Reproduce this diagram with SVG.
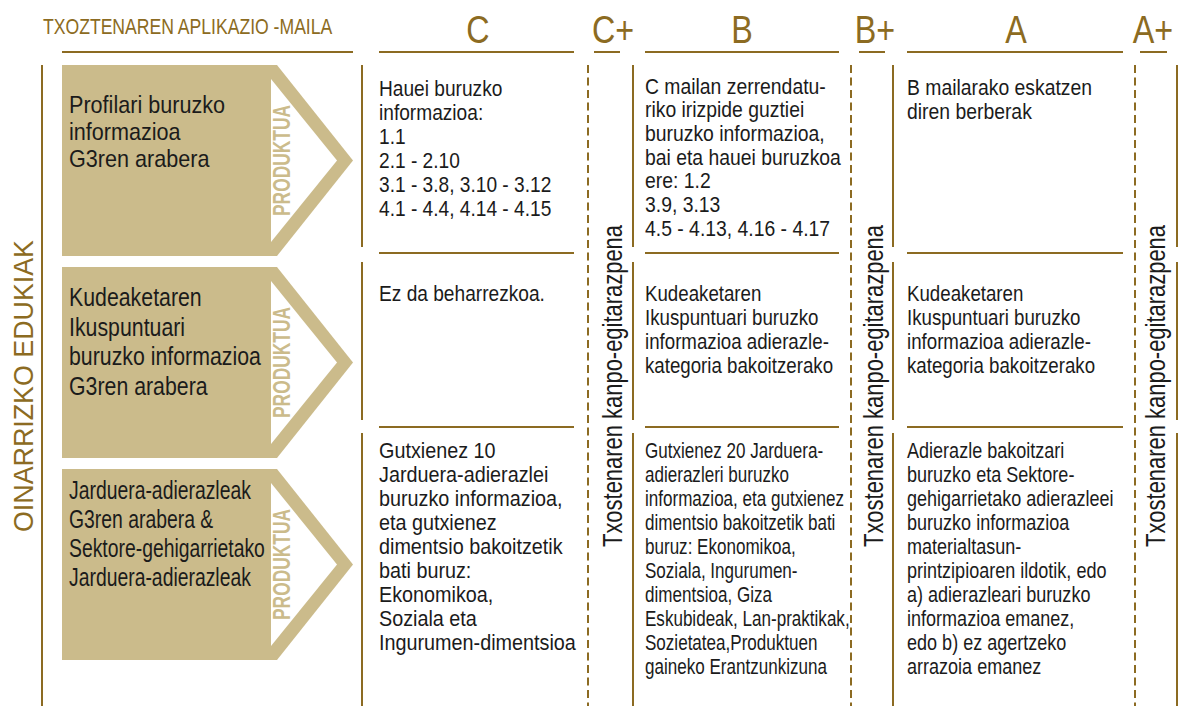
<svg xmlns="http://www.w3.org/2000/svg" width="1186" height="706" viewBox="0 0 1186 706">
<style>
.bg{fill:#ffffff}
.tan{fill:#CBBB8B}
.wht{fill:#ffffff}
.ln{stroke:#8C6B22;stroke-width:2;fill:none}
.dash{stroke:#8C6B22;stroke-width:2;fill:none;stroke-dasharray:8 4.5}
.gold{fill:#8C6B22;font-family:"Liberation Sans",Arial,sans-serif}
.hd{font-size:22px}
.lvl{font-size:38px;text-anchor:middle}
.side{font-size:28px}
.body{fill:#1b1b1b;font-family:"Liberation Sans",Arial,sans-serif;font-size:22px}
.box{fill:#1b1b1b;font-family:"Liberation Sans",Arial,sans-serif}
.prod{fill:#CBBB8B;font-family:"Liberation Sans",Arial,sans-serif;font-weight:bold;font-size:24px}
.vt{fill:#1b1b1b;font-family:"Liberation Sans",Arial,sans-serif;font-size:27px}
</style>
<rect class="bg" x="0" y="0" width="1186" height="706"/>

<g id="headers">
  <text class="gold hd" transform="translate(43,34) scale(0.8,1)">TXOZTENAREN APLIKAZIO -MAILA</text>
  <text class="gold lvl" transform="translate(478,42.5) scale(0.85,1)">C</text>
  <text class="gold lvl" transform="translate(613,42.5) scale(0.85,1)">C+</text>
  <text class="gold lvl" transform="translate(742,42.5) scale(0.85,1)">B</text>
  <text class="gold lvl" transform="translate(875,42.5) scale(0.85,1)">B+</text>
  <text class="gold lvl" transform="translate(1016,42.5) scale(0.85,1)">A</text>
  <text class="gold lvl" transform="translate(1153,42.5) scale(0.85,1)">A+</text>
  <text class="gold side" transform="translate(32.7,532) rotate(-90)" textLength="292" lengthAdjust="spacingAndGlyphs">OINARRIZKO EDUKIAK</text>
</g>

<g id="connectors">
  <path class="ln" d="M62,52H353 M379,52H574 M594,52H620 M645,52H839 M859,52H885 M907,52H1123 M1140,52H1167"/>
  <path class="ln" d="M42,65V706"/>
  <path class="ln" d="M362,65V247 M362,262V420 M362,433V706"/>
  <path class="ln" d="M633,65V247 M633,262V420 M633,433V706"/>
  <path class="ln" d="M893,65V247 M893,262V420 M893,433V706"/>
  <path class="ln" d="M1177,65V247 M1177,262V420 M1177,433V706"/>
  <path class="ln" d="M379,253H574 M645,253H839 M907,253H1123"/>
  <path class="ln" d="M379,427H574 M645,427H839 M907,427H1123"/>
  <path class="dash" d="M588,65V706 M851,65V706 M1135,65V706"/>
</g>

<g id="node-profilari">
  <path class="tan" d="M62,65H277L353,160.5L277,256H62Z"/>
  <path class="wht" d="M271,79L337,160.5L271,242Z"/>
  <text class="prod" transform="translate(290,216) rotate(-90)" textLength="111" lengthAdjust="spacingAndGlyphs">PRODUKTUA</text>
  <text class="box" font-size="24" transform="translate(69,113) scale(0.9,1)"><tspan x="0" y="0">Profilari buruzko</tspan><tspan x="0" y="27">informazioa</tspan><tspan x="0" y="54">G3ren arabera</tspan></text>
</g>

<g id="node-kudeaketa">
  <path class="tan" d="M62,267H277L353,362.5L277,458H62Z"/>
  <path class="wht" d="M271,281L337,362.5L271,444Z"/>
  <text class="prod" transform="translate(290,418) rotate(-90)" textLength="111" lengthAdjust="spacingAndGlyphs">PRODUKTUA</text>
  <text class="box" font-size="26" transform="translate(69,306) scale(0.82,1)"><tspan x="0" y="0">Kudeaketaren</tspan><tspan x="0" y="29.7">Ikuspuntuari</tspan><tspan x="0" y="59.4">buruzko informazioa</tspan><tspan x="0" y="89">G3ren arabera</tspan></text>
</g>

<g id="node-jarduera">
  <path class="tan" d="M62,469H277L353,564.5L277,660H62Z"/>
  <path class="wht" d="M271,483L337,564.5L271,646Z"/>
  <text class="prod" transform="translate(290,620) rotate(-90)" textLength="111" lengthAdjust="spacingAndGlyphs">PRODUKTUA</text>
  <text class="box" font-size="25.5" transform="translate(69,499) scale(0.76,1)"><tspan x="0" y="0">Jarduera-adierazleak</tspan><tspan x="0" y="29">G3ren arabera &amp;</tspan><tspan x="0" y="58">Sektore-gehigarrietako</tspan><tspan x="0" y="87.5">Jarduera-adierazleak</tspan></text>
</g>

<g id="vertical-labels">
  <text class="vt" transform="translate(622,547) rotate(-90)" textLength="322" lengthAdjust="spacingAndGlyphs">Txostenaren kanpo-egitarazpena</text>
  <text class="vt" transform="translate(883,547) rotate(-90)" textLength="322" lengthAdjust="spacingAndGlyphs">Txostenaren kanpo-egitarazpena</text>
  <text class="vt" transform="translate(1165,547) rotate(-90)" textLength="322" lengthAdjust="spacingAndGlyphs">Txostenaren kanpo-egitarazpena</text>
</g>

<g id="cell-C1">
  <text class="body" transform="translate(379,96) scale(0.87,1)"><tspan x="0" y="0">Hauei buruzko</tspan><tspan x="0" y="24">informazioa:</tspan><tspan x="0" y="48">1.1</tspan><tspan x="0" y="72">2.1 - 2.10</tspan><tspan x="0" y="96">3.1 - 3.8, 3.10 - 3.12</tspan><tspan x="0" y="120">4.1 - 4.4, 4.14 - 4.15</tspan></text>
</g>
<g id="cell-C2">
  <text class="body" transform="translate(379,301) scale(0.87,1)"><tspan x="0" y="0">Ez da beharrezkoa.</tspan></text>
</g>
<g id="cell-C3">
  <text class="body" transform="translate(379,458) scale(0.9,1)"><tspan x="0" y="0">Gutxienez 10</tspan><tspan x="0" y="24">Jarduera-adierazlei</tspan><tspan x="0" y="48">buruzko informazioa,</tspan><tspan x="0" y="72">eta gutxienez</tspan><tspan x="0" y="96">dimentsio bakoitzetik</tspan><tspan x="0" y="120">bati buruz:</tspan><tspan x="0" y="144">Ekonomikoa,</tspan><tspan x="0" y="168">Soziala eta</tspan><tspan x="0" y="192">Ingurumen-dimentsioa</tspan></text>
</g>

<g id="cell-B1">
  <text class="body" transform="translate(645,93.5) scale(0.88,1)"><tspan x="0" y="0">C mailan zerrendatu-</tspan><tspan x="0" y="23.7">riko irizpide guztiei</tspan><tspan x="0" y="47.4">buruzko informazioa,</tspan><tspan x="0" y="71.1">bai eta hauei buruzkoa</tspan><tspan x="0" y="94.8">ere: 1.2</tspan><tspan x="0" y="118.5">3.9, 3.13</tspan><tspan x="0" y="142.2">4.5 - 4.13, 4.16 - 4.17</tspan></text>
</g>
<g id="cell-B2">
  <text class="body" transform="translate(645,301) scale(0.85,1)"><tspan x="0" y="0">Kudeaketaren</tspan><tspan x="0" y="24">Ikuspuntuari buruzko</tspan><tspan x="0" y="48">informazioa adierazle-</tspan><tspan x="0" y="72">kategoria bakoitzerako</tspan></text>
</g>
<g id="cell-B3">
  <text class="body" transform="translate(645,458) scale(0.775,1)"><tspan x="0" y="0">Gutxienez 20 Jarduera-</tspan><tspan x="0" y="24">adierazleri buruzko</tspan><tspan x="0" y="48">informazioa, eta gutxienez</tspan><tspan x="0" y="72">dimentsio bakoitzetik bati</tspan><tspan x="0" y="96">buruz: Ekonomikoa,</tspan><tspan x="0" y="120">Soziala, Ingurumen-</tspan><tspan x="0" y="144">dimentsioa, Giza</tspan><tspan x="0" y="168">Eskubideak, Lan-praktikak,</tspan><tspan x="0" y="192">Sozietatea,Produktuen</tspan><tspan x="0" y="216">gaineko Erantzunkizuna</tspan></text>
</g>

<g id="cell-A1">
  <text class="body" transform="translate(907,95) scale(0.88,1)"><tspan x="0" y="0">B mailarako eskatzen</tspan><tspan x="0" y="24">diren berberak</tspan></text>
</g>
<g id="cell-A2">
  <text class="body" transform="translate(907,301) scale(0.85,1)"><tspan x="0" y="0">Kudeaketaren</tspan><tspan x="0" y="24">Ikuspuntuari buruzko</tspan><tspan x="0" y="48">informazioa adierazle-</tspan><tspan x="0" y="72">kategoria bakoitzerako</tspan></text>
</g>
<g id="cell-A3">
  <text class="body" transform="translate(907,458) scale(0.82,1)"><tspan x="0" y="0">Adierazle bakoitzari</tspan><tspan x="0" y="24">buruzko eta Sektore-</tspan><tspan x="0" y="48">gehigarrietako adierazleei</tspan><tspan x="0" y="72">buruzko informazioa</tspan><tspan x="0" y="96">materialtasun-</tspan><tspan x="0" y="120">printzipioaren ildotik, edo</tspan><tspan x="0" y="144">a) adierazleari buruzko</tspan><tspan x="0" y="168">informazioa emanez,</tspan><tspan x="0" y="192">edo b) ez agertzeko</tspan><tspan x="0" y="216">arrazoia emanez</tspan></text>
</g>
</svg>
